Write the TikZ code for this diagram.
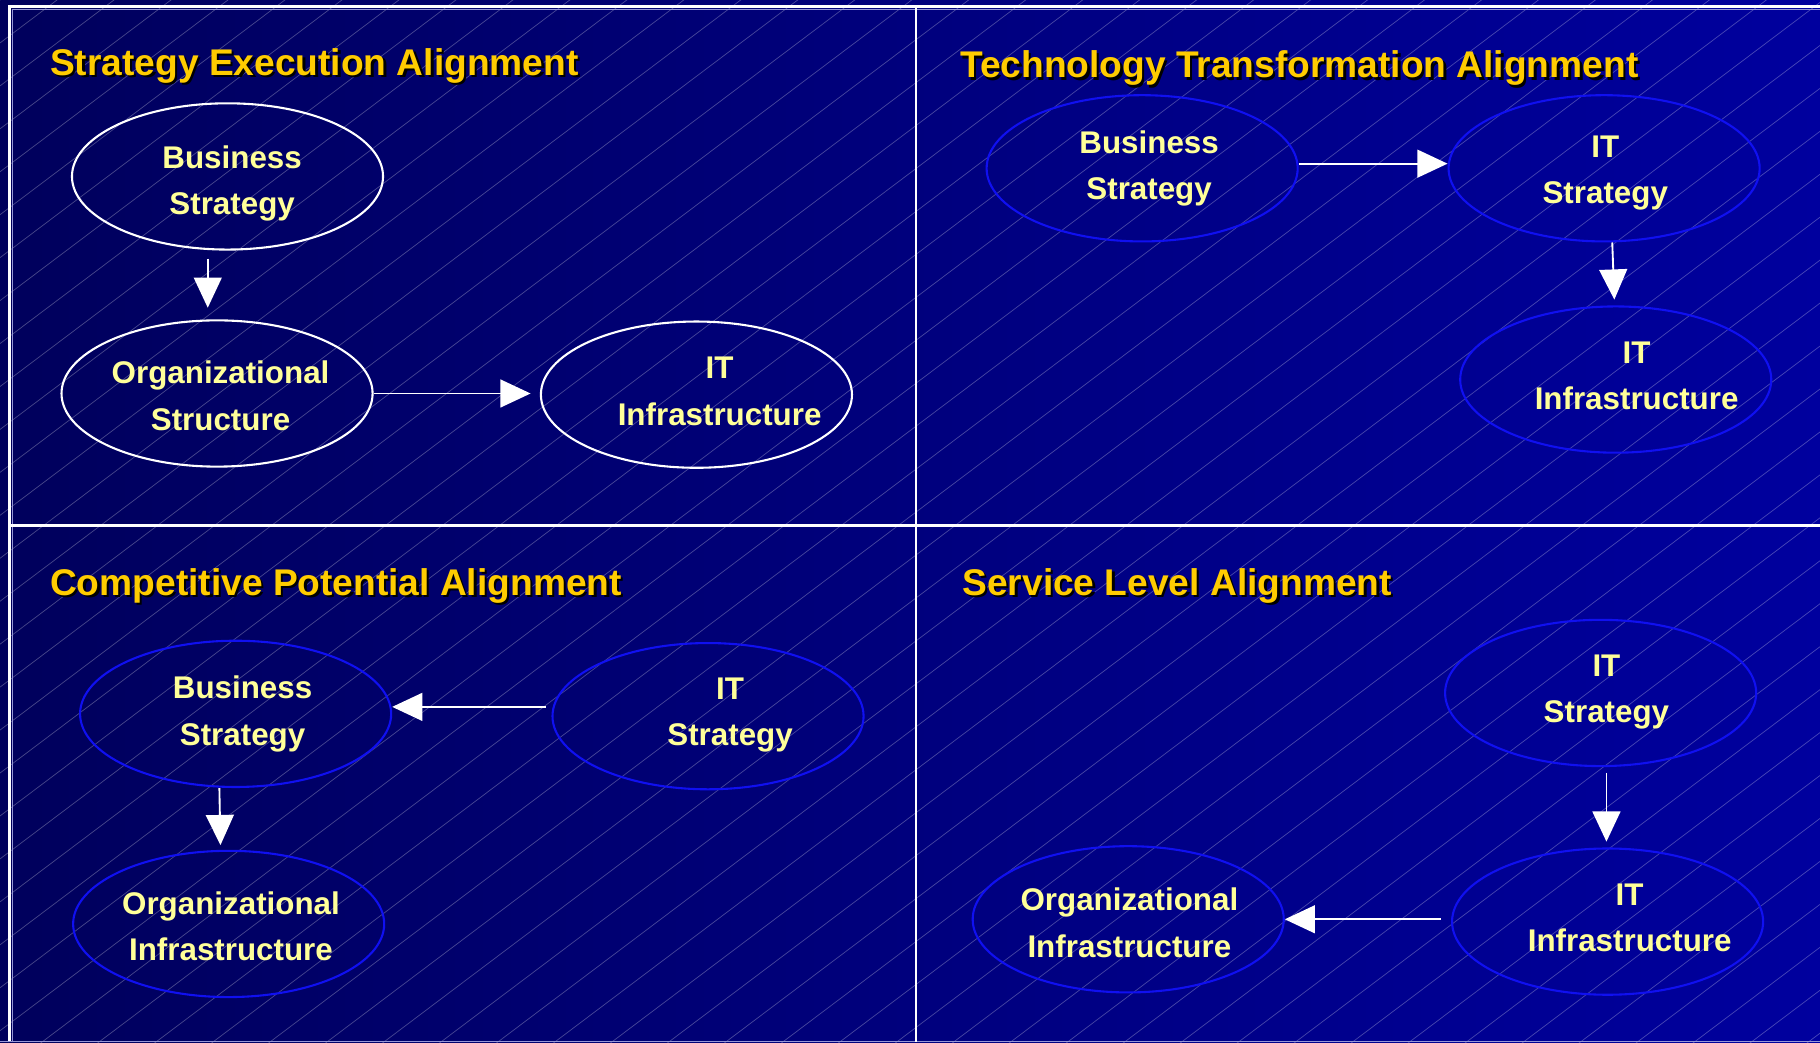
\documentclass[tikz,border=0pt]{standalone}
\usepackage{fontspec}
\setmainfont{Liberation Sans}
\usetikzlibrary{shapes.geometric,arrows.meta}

\definecolor{navydark}{RGB}{0,0,92}
\definecolor{navylight}{RGB}{0,0,158}
\definecolor{framelilac}{RGB}{150,150,215}
\definecolor{titlegold}{RGB}{255,204,0}
\definecolor{labelyellow}{RGB}{255,255,153}
\definecolor{ovalblue}{RGB}{16,16,240}

\tikzset{
	oval/.style={ellipse, draw=ovalblue, line width=1.8pt, minimum width=268pt, minimum height=126pt, inner sep=0pt},
	ovalwhite/.style={oval, draw=white},
	lbl/.style={text=labelyellow, font=\fontsize{27}{40}\selectfont\bfseries, align=center, inner sep=0pt},
	ttl/.style={text=titlegold, font=\fontsize{32}{38}\selectfont\bfseries, anchor=base west, inner sep=0pt},
	ttlshadow/.style={ttl, text=black},
	arr/.style={draw=white, line width=1.6pt, -{Triangle[length=26pt,width=24pt]}},
	divider/.style={draw=white, line width=2.2pt}
}

% title with a dark drop shadow
\newcommand{\paneltitle}[3]{%
	\node[ttlshadow] (#1-shadow) at ([shift={(2,2)}]#2) {#3};
	\node[ttl] (#1) at (#2) {#3};
}

\begin{document}
\begin{tikzpicture}[x=1pt, y=-1pt]
	\useasboundingbox (0,0) rectangle (1568,898);
	% background and hatching
	\shade[left color=navydark, right color=navylight] (0,0) rectangle (1568,898);
	\begin{scope}
		\clip (0,0) rectangle (1568,898);
		\foreach \c in {0,37,...,2100}
			\draw[white, opacity=0.28, line width=0.6pt] (0,\c) -- +(1600,-1206);
	\end{scope}
	% frame and dividers
	\draw[white, line width=2.5pt] (8,898) -- (8,5.5) -- (1568,5.5);
	\draw[framelilac, line width=1pt] (10.5,898) -- (10.5,8.5) -- (1568,8.5);
	\draw[framelilac, line width=1pt] (0,897.5) -- (1568,897.5);
	\draw[divider] (789,5.5) -- (789,898);
	\draw[divider] (8,452.5) -- (1568,452.5);

	% strategy execution
	\paneltitle{ttl1}{43,65}{Strategy Execution Alignment}
	\node[ovalwhite] (bs1) at (196,152) {};
	\node[ovalwhite] (os1) at (187,339) {};
	\node[ovalwhite] (iti1) at (600,340) {};
	\node[lbl] (bs1-txt) at ([shift={(4,6)}]bs1.center) {Business\\Strategy};
	\node[lbl] (os1-txt) at ([shift={(3,2)}]os1.center) {Organizational\\Structure};
	\node[lbl] (iti1-txt) at ([shift={(20,-3)}]iti1.center) {IT\\Infrastructure};
	\draw[arr, shorten <=7pt, shorten >=10pt] ([shift={(-17,0)}]bs1.south) -- ([shift={(-8,0)}]os1.north);
	\draw[arr, shorten >=8pt] (os1.east) -- (os1.east -| iti1.west);

	% technology transformation
	\paneltitle{ttl2}{827,67}{Technology Transformation Alignment}
	\node[oval] (bs2) at (984,145) {};
	\node[oval] (its2) at (1382,145) {};
	\node[oval] (iti2) at (1392,327) {};
	\node[lbl] (bs2-txt) at ([shift={(6,0)}]bs2.center) {Business\\Strategy};
	\node[lbl] (its2-txt) at ([shift={(1,4)}]its2.center) {IT\\Strategy};
	\node[lbl] (iti2-txt) at ([shift={(18,-3)}]iti2.center) {IT\\Infrastructure};
	\draw[arr] ([shift={(0,-4)}]bs2.east) -- ([shift={(0,-4)}]its2.west);
	\draw[arr, shorten >=5pt] ([shift={(7,0)}]its2.south) -- ([shift={(-1,0)}]iti2.north);

	% competitive potential
	\paneltitle{ttl3}{43,513}{Competitive Potential Alignment}
	\node[oval] (bs3) at (203,615) {};
	\node[oval] (its3) at (610,617) {};
	\node[oval] (oi3) at (197,796) {};
	\node[lbl] (bs3-txt) at ([shift={(6,0)}]bs3.center) {Business\\Strategy};
	\node[lbl] (its3-txt) at ([shift={(19,-1)}]its3.center) {IT\\Strategy};
	\node[lbl] (oi3-txt) at ([shift={(2,2)}]oi3.center) {Organizational\\Infrastructure};
	\draw[arr, shorten <=5pt] ([shift={(0,-8)}]its3.west) -- ([shift={(0,-6)}]bs3.east);
	\draw[arr, shorten >=4pt] ([shift={(-14,0)}]bs3.south) -- ([shift={(-7,0)}]oi3.north);

	% service level
	\paneltitle{ttl4}{829,513}{Service Level Alignment}
	\node[oval] (its4) at (1379,597) {};
	\node[oval] (iti4) at (1385,794) {};
	\node[oval] (oi4) at (972,792) {};
	\node[lbl] (its4-txt) at ([shift={(5,-1)}]its4.center) {IT\\Strategy};
	\node[lbl] (iti4-txt) at ([shift={(19,-3)}]iti4.center) {IT\\Infrastructure};
	\node[lbl] (oi4-txt) at ([shift={(1,3)}]oi4.center) {Organizational\\Infrastructure};
	\draw[arr, shorten <=5pt, shorten >=5pt] ([shift={(5,0)}]its4.south) -- ([shift={(-1,0)}]iti4.north);
	\draw[arr, shorten <=9pt] ([shift={(0,-2)}]iti4.west) -- (oi4.east);
\end{tikzpicture}
\end{document}
